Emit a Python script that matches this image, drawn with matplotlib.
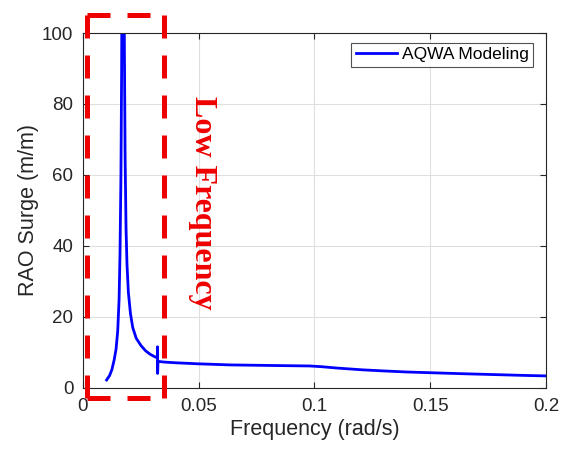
import matplotlib
matplotlib.use("Agg")
import matplotlib.pyplot as plt

freq = [0.0102, 0.0115, 0.0125, 0.0135, 0.0143, 0.015, 0.0156, 0.016, 0.0164, 0.0167,
        0.0170, 0.0176, 0.0179, 0.0182, 0.0186, 0.019, 0.0196, 0.0205, 0.0215, 0.023,
        0.025, 0.027, 0.029, 0.031, 0.0321, 0.0322, 0.03225, 0.0324, 0.033, 0.035,
        0.04, 0.05, 0.0635, 0.08, 0.098, 0.103, 0.11, 0.121, 0.13, 0.14,
        0.15, 0.165, 0.179, 0.19, 0.2]
rao = [2.25, 3.5, 5.2, 8, 11, 16, 25, 38, 60, 90,
       140, 130, 95, 65, 45, 35, 27, 21, 17, 14,
       12, 10.5, 9.5, 8.8, 8.5, 11.6, 4.1, 7.6, 7.45, 7.3,
       7.1, 6.8, 6.5, 6.35, 6.2, 6.0, 5.6, 5.1, 4.8, 4.5,
       4.3, 4.0, 3.75, 3.55, 3.4]

xticks = [0, 0.05, 0.1, 0.15, 0.2]
xticklabels = ["0", "0.05", "0.1", "0.15", "0.2"]
yticks = [0, 20, 40, 60, 80, 100]

# highlight box (x0, x1, y0, y1) in data units
box_x = [0.00173, 0.0352]
box_y = [-2.7, 105.1]

plt.rcParams['font.family'] = ['Liberation Sans', 'DejaVu Sans']

fig = plt.figure(figsize=(5.66, 4.49), dpi=100)
ax = fig.add_axes([0.1466, 0.1359, 0.8181, 0.7906])

ax.plot(freq, rao, color='#0000FF', lw=2.0, label='AQWA Modeling')
ax.set_xlim(0, 0.2)
ax.set_ylim(0, 100)
ax.set_xticks(xticks)
ax.set_xticklabels(xticklabels)
ax.set_yticks(yticks)
ax.grid(True, color='#DFDFDF', lw=0.8)
ax.set_axisbelow(True)
ax.tick_params(direction='in', labelsize=13.5, length=4, top=True, right=True,
               colors='#262626', pad=7)
for s in ax.spines.values():
    s.set_color('#262626')
    s.set_linewidth(0.8)
ax.set_xlabel('Frequency (rad/s)', fontsize=15.5, color='#262626', labelpad=3)
ax.set_ylabel('RAO Surge (m/m)', fontsize=15.5, color='#262626', labelpad=2)

leg = ax.legend(loc='upper right', fontsize=12.5, frameon=True, fancybox=False,
                edgecolor='#262626', handlelength=2.35, handletextpad=0.3,
                borderpad=0.25, borderaxespad=0,
                bbox_to_anchor=(0.972, 0.972))
leg.get_frame().set_linewidth(0.8)

x0, x1 = box_x
y0, y1 = box_y
sides = [([x0, x1], [y0, y0]), ([x0, x1], [y1, y1]),
         ([x0, x0], [y1, y0]), ([x1, x1], [y1, y0])]
for xs, ys in sides:
    ax.plot(xs, ys, color='#EE0000', lw=3.6, linestyle=(0, (4.6, 3.4)),
            dash_capstyle='butt', clip_on=False, zorder=5)

ax.text(0.0515, 52.3, 'Low Frequency', rotation=-90, color='#EE0000',
        fontsize=23, fontweight='bold', family='Liberation Serif',
        ha='center', va='center')

fig.savefig('out.png', dpi=100)
